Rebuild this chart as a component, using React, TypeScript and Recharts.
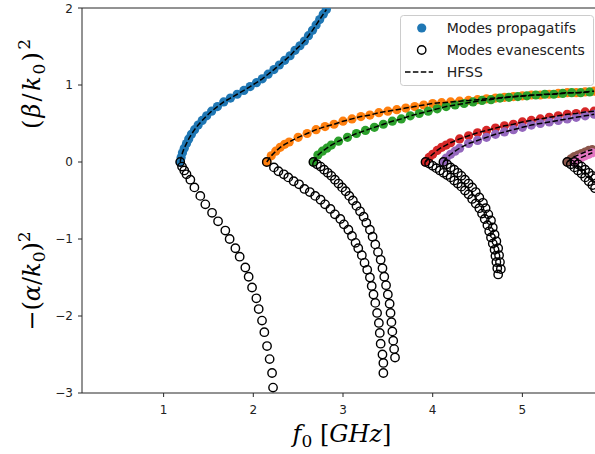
import React from 'react';
import { ScatterChart, Scatter, XAxis, YAxis, ReferenceLine } from 'recharts';

type P = [number, number];

// frequency [GHz], normalised propagation constant
const prop1: P[] = [[1.185,0.00],[1.195,0.06],[1.21,0.12],[1.23,0.18],[1.255,0.24],[1.28,0.30],[1.31,0.36],[1.345,0.42],[1.385,0.48],[1.43,0.54],[1.48,0.60],[1.535,0.66],[1.60,0.72],[1.67,0.78],[1.745,0.83],[1.82,0.88],[1.895,0.93],[1.965,0.98],[2.035,1.03],[2.10,1.08],[2.165,1.14],[2.23,1.20],[2.29,1.26],[2.35,1.32],[2.41,1.38],[2.465,1.45],[2.52,1.51],[2.57,1.57],[2.615,1.64],[2.66,1.71],[2.70,1.78],[2.74,1.85],[2.78,1.92],[2.815,1.98]];
const evan1: P[] = [[1.185,0],[1.205,-0.06],[1.23,-0.11],[1.255,-0.16],[1.298,-0.23],[1.343,-0.33],[1.409,-0.44],[1.465,-0.55],[1.54,-0.66],[1.607,-0.77],[1.688,-0.89],[1.736,-1.0],[1.8,-1.12],[1.848,-1.23],[1.911,-1.37],[1.948,-1.49],[1.986,-1.63],[2.034,-1.77],[2.06,-1.91],[2.097,-2.06],[2.123,-2.21],[2.153,-2.39],[2.182,-2.56],[2.209,-2.74],[2.22,-2.93]];

const prop2: P[] = [[2.15,0],[2.2,0.08],[2.25,0.14],[2.3,0.19],[2.35,0.23],[2.4,0.26],[2.5,0.32],[2.6,0.37],[2.7,0.42],[2.8,0.46],[2.9,0.49],[3.0,0.53],[3.1,0.56],[3.2,0.59],[3.3,0.61],[3.4,0.64],[3.5,0.66],[3.6,0.68],[3.7,0.7],[3.8,0.72],[3.9,0.74],[4.0,0.76],[4.1,0.77],[4.2,0.78],[4.3,0.79],[4.4,0.8],[4.5,0.81],[4.6,0.82],[4.7,0.83],[4.8,0.84],[4.9,0.85],[5.0,0.86],[5.1,0.87],[5.2,0.87],[5.3,0.88],[5.4,0.89],[5.5,0.9],[5.6,0.9],[5.7,0.91],[5.8,0.92]];
const evan2: P[] = [[2.15,0],[2.23,-0.07],[2.28,-0.12],[2.34,-0.16],[2.39,-0.2],[2.45,-0.25],[2.51,-0.29],[2.57,-0.35],[2.63,-0.39],[2.69,-0.44],[2.75,-0.49],[2.8,-0.55],[2.86,-0.61],[2.91,-0.68],[2.97,-0.74],[3.01,-0.81],[3.06,-0.88],[3.1,-0.96],[3.14,-1.05],[3.17,-1.12],[3.21,-1.21],[3.24,-1.31],[3.27,-1.4],[3.3,-1.5],[3.32,-1.61],[3.34,-1.72],[3.36,-1.83],[3.38,-1.96],[3.4,-2.09],[3.41,-2.22],[3.42,-2.36],[3.44,-2.5],[3.45,-2.61],[3.45,-2.74]];

const prop3: P[] = [[2.67,0],[2.72,0.09],[2.77,0.14],[2.82,0.18],[2.87,0.22],[2.95,0.27],[3.05,0.32],[3.15,0.37],[3.25,0.41],[3.35,0.45],[3.45,0.49],[3.55,0.53],[3.65,0.56],[3.75,0.6],[3.85,0.63],[3.95,0.66],[4.05,0.69],[4.15,0.72],[4.25,0.74],[4.35,0.76],[4.45,0.78],[4.55,0.8],[4.65,0.81],[4.75,0.83],[4.85,0.84],[4.95,0.85],[5.05,0.86],[5.15,0.87],[5.25,0.88],[5.35,0.88],[5.45,0.89],[5.55,0.9],[5.65,0.9],[5.75,0.91]];
const evan3: P[] = [[2.67,0],[2.71,-0.03],[2.75,-0.06],[2.79,-0.1],[2.83,-0.14],[2.87,-0.18],[2.91,-0.23],[2.95,-0.28],[2.99,-0.33],[3.03,-0.38],[3.07,-0.44],[3.11,-0.5],[3.15,-0.57],[3.19,-0.64],[3.23,-0.71],[3.26,-0.79],[3.3,-0.88],[3.33,-0.97],[3.36,-1.07],[3.39,-1.17],[3.42,-1.27],[3.44,-1.38],[3.46,-1.49],[3.48,-1.6],[3.5,-1.72],[3.52,-1.84],[3.53,-1.96],[3.54,-2.08],[3.55,-2.2],[3.56,-2.32],[3.57,-2.43],[3.58,-2.54]];

const prop4: P[] = [[3.92,0],[3.96,0.06],[4.0,0.1],[4.05,0.15],[4.1,0.19],[4.15,0.22],[4.2,0.25],[4.3,0.3],[4.4,0.34],[4.5,0.38],[4.6,0.41],[4.7,0.44],[4.8,0.47],[4.9,0.49],[5.0,0.52],[5.1,0.54],[5.2,0.56],[5.3,0.58],[5.4,0.6],[5.5,0.62],[5.6,0.63],[5.7,0.65],[5.8,0.66]];
const evan4: P[] = [[3.92,0],[3.96,-0.02],[4.0,-0.05],[4.04,-0.08],[4.08,-0.11],[4.12,-0.14],[4.16,-0.17],[4.2,-0.2],[4.24,-0.24],[4.28,-0.28],[4.32,-0.32],[4.36,-0.37],[4.4,-0.42],[4.44,-0.48],[4.48,-0.54],[4.52,-0.6],[4.55,-0.67],[4.58,-0.74],[4.61,-0.82],[4.63,-0.9],[4.65,-0.98],[4.67,-1.06],[4.69,-1.14],[4.7,-1.22],[4.71,-1.3],[4.72,-1.38],[4.73,-1.46]];

const prop5: P[] = [[4.12,0],[4.15,0.05],[4.2,0.1],[4.25,0.14],[4.3,0.18],[4.4,0.24],[4.5,0.28],[4.6,0.32],[4.7,0.36],[4.8,0.39],[4.9,0.42],[5.0,0.45],[5.1,0.48],[5.2,0.5],[5.3,0.52],[5.4,0.54],[5.5,0.56],[5.6,0.58],[5.7,0.6],[5.8,0.62]];
const evan5: P[] = [[4.12,0],[4.16,-0.03],[4.2,-0.07],[4.24,-0.1],[4.28,-0.14],[4.32,-0.18],[4.36,-0.23],[4.4,-0.28],[4.44,-0.33],[4.48,-0.39],[4.52,-0.46],[4.56,-0.53],[4.59,-0.6],[4.62,-0.68],[4.65,-0.76],[4.67,-0.85],[4.69,-0.94],[4.71,-1.03],[4.73,-1.12],[4.74,-1.21],[4.75,-1.3],[4.76,-1.39]];

const prop6: P[] = [[5.5,0],[5.54,0.04],[5.58,0.07],[5.62,0.09],[5.66,0.11],[5.7,0.13],[5.74,0.15],[5.78,0.16]];
const evan6: P[] = [[5.5,0],[5.54,-0.03],[5.58,-0.07],[5.62,-0.11],[5.66,-0.15],[5.7,-0.2],[5.74,-0.25],[5.78,-0.3],[5.81,-0.34]];

const prop7: P[] = [[5.58,0],[5.62,0.04],[5.66,0.06],[5.7,0.08],[5.74,0.1],[5.78,0.12]];
const evan7: P[] = [[5.58,0],[5.62,-0.03],[5.66,-0.06],[5.7,-0.1],[5.74,-0.14],[5.78,-0.18],[5.81,-0.21]];

const xTicks = [1, 2, 3, 4, 5];
const yTicks = [-3, -2, -1, 0, 1, 2];
const xDomain: [number, number] = [0.09, 5.91];
const yDomain: [number, number] = [-3, 2];
const legendLabels = ['Modes propagatifs', 'Modes evanescents', 'HFSS'];

const colors = ['#1f77b4', '#ff7f0e', '#2ca02c', '#d62728', '#9467bd', '#8c564b', '#e377c2'];
const modes = [
  { prop: prop1, evan: evan1 },
  { prop: prop2, evan: evan2 },
  { prop: prop3, evan: evan3 },
  { prop: prop4, evan: evan4 },
  { prop: prop5, evan: evan5 },
  { prop: prop6, evan: evan6 },
  { prop: prop7, evan: evan7 },
];

const toPts = (a: P[]) => a.map(([x, y]) => ({ x, y }));

const AXIS = '#262626';
const fmt = (v: number) => (v < 0 ? '\u2212' + Math.abs(v) : String(v));

const filledDot = (fill: string) => (p: any) => <circle cx={p.cx} cy={p.cy} r={4.6} fill={fill} />;
const openDot = (p: any) => <circle cx={p.cx} cy={p.cy} r={4.2} fill="none" stroke="#000" strokeWidth={1.4} />;
const noDot = () => <g />;

const XTick = (p: any) => (
  <text x={p.x} y={414} textAnchor="middle" fontSize={12} fill="#222" fontFamily="DejaVu Sans">
    {fmt(p.payload.value)}
  </text>
);
const YTick = (p: any) => (
  <text x={73} y={p.y + 4.3} textAnchor="end" fontSize={12} fill="#222" fontFamily="DejaVu Sans">
    {fmt(p.payload.value)}
  </text>
);

const XLabel = () => (
  <text x={342} y={442} textAnchor="middle" fontSize={24} fill="#000" fontFamily="DejaVu Serif">
    <tspan fontStyle="italic">f</tspan>
    <tspan fontSize={17} dy={5}>0</tspan>
    <tspan dy={-5}>{' ['}</tspan>
    <tspan fontStyle="italic">GHz</tspan>
    <tspan>]</tspan>
  </text>
);

const YLabel = () => (
  <g fontFamily="DejaVu Serif" fontSize={24} fill="#000">
    <text transform="translate(40,84) rotate(-90)" textAnchor="middle" textLength={90} lengthAdjust="spacing">
      <tspan>(</tspan>
      <tspan fontStyle="italic">β</tspan>
      <tspan>/</tspan>
      <tspan fontStyle="italic">k</tspan>
      <tspan fontSize={17} dy={5}>0</tspan>
      <tspan dy={-5}>)</tspan>
      <tspan fontSize={17} dy={-10}>2</tspan>
    </text>
    <text transform="translate(40,281) rotate(-90)" textAnchor="middle">
      <tspan>−(</tspan>
      <tspan fontStyle="italic">α</tspan>
      <tspan>/</tspan>
      <tspan fontStyle="italic">k</tspan>
      <tspan fontSize={17} dy={5}>0</tspan>
      <tspan dy={-5}>)</tspan>
      <tspan fontSize={17} dy={-10}>2</tspan>
    </text>
  </g>
);

const LegendBox = () => (
  <svg width={196} height={74} style={{ position: 'absolute', left: 400, top: 15 }}>
    <rect x={0.5} y={0.5} width={193} height={70} rx={3} fill="#fff" fillOpacity={0.8} stroke="#cccccc" />
    <circle cx={21.7} cy={13} r={4.6} fill={colors[0]} />
    <circle cx={21.7} cy={35} r={4.2} fill="none" stroke="#000" strokeWidth={1.4} />
    <line x1={5} x2={33} y1={57} y2={57} stroke="#000" strokeWidth={1.5} strokeDasharray="5.5 2.4" />
    {legendLabels.map((t, i) => (
      <text key={t} x={46.7} y={13 + i * 22 + 5} fontSize={14} fill="#222" fontFamily="DejaVu Sans">
        {t}
      </text>
    ))}
  </svg>
);

export default function App() {
  return (
    <div style={{ width: 579, height: 438 }}>
      <div style={{ position: 'fixed', left: 0, top: 0, width: 595, height: 454, overflow: 'hidden', background: '#fff' }}>
        <ScatterChart width={620} height={454} margin={{ top: 8, right: 16, bottom: 21, left: 22 }}>
          <XAxis
            type="number"
            dataKey="x"
            domain={xDomain}
            ticks={xTicks}
            allowDataOverflow
            height={40}
            tickSize={4}
            stroke={AXIS}
            tick={XTick}
            label={{ content: XLabel }}
          />
          <YAxis
            type="number"
            dataKey="y"
            domain={yDomain}
            ticks={yTicks}
            allowDataOverflow
            width={60}
            tickSize={4}
            stroke={AXIS}
            tick={YTick}
            label={{ content: YLabel }}
          />
          <ReferenceLine y={2} stroke={AXIS} strokeWidth={1} />
          {modes.map((m, i) => (
            <Scatter key={'p' + i} data={toPts(m.prop)} shape={filledDot(colors[i])} isAnimationActive={false} />
          ))}
          {modes.map((m, i) => (
            <Scatter key={'e' + i} data={toPts(m.evan)} shape={openDot} isAnimationActive={false} />
          ))}
          {modes.map((m, i) => (
            <Scatter
              key={'h' + i}
              data={toPts(m.prop)}
              shape={noDot}
              line={{ stroke: '#000', strokeWidth: 1.5, strokeDasharray: '5.5 2.4' }}
              lineType="joint"
              isAnimationActive={false}
            />
          ))}
        </ScatterChart>
        <LegendBox />
      </div>
    </div>
  );
}
